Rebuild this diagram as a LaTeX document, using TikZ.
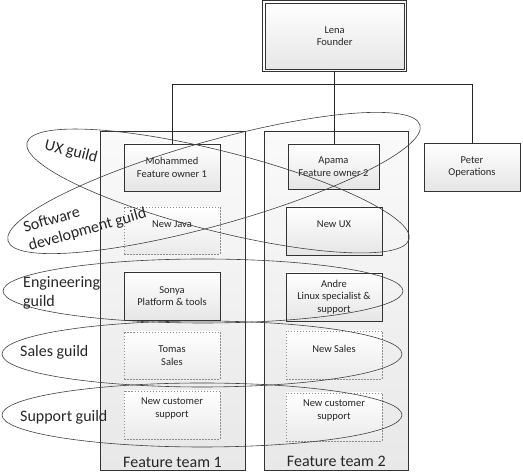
\documentclass[tikz,border=0pt]{standalone}
\usepackage{fontspec}
\setmainfont{Carlito}
\usetikzlibrary{positioning}
\usetikzlibrary{shadows}

\begin{document}
\begin{tikzpicture}[x=1pt, y=1pt,
	every node/.style={text=black!85},
	person/.style={draw=black!80, line width=0.7pt, top color=white, bottom color=black!10,
		minimum width=96pt, minimum height=47pt, align=center,
		font=\fontsize{10.5}{12.5}\selectfont,
		drop shadow={shadow xshift=1.2pt, shadow yshift=-1.2pt, opacity=0.25}},
	vacant/.style={draw=black!45, line width=0.6pt, dash pattern=on 1.5pt off 1.5pt,
		top color=white, bottom color=black!8,
		minimum width=96pt, minimum height=47pt, align=center,
		font=\fontsize{10.5}{12.5}\selectfont},
	boxtext/.style={font=\fontsize{10.5}{12.5}\selectfont, align=center, inner sep=0pt},
	team/.style={draw=black!80, line width=0.7pt, top color=black!2, bottom color=black!9,
		minimum width=145pt, minimum height=339pt},
	teamname/.style={font=\fontsize{16}{19}\selectfont, inner sep=0pt},
	guild/.style={draw=black!75, line width=0.6pt},
	guildname/.style={font=\fontsize{16}{19}\selectfont, inner sep=0pt, align=left},
	wire/.style={draw=black!85, line width=0.7pt}]

	\useasboundingbox (0,0) rectangle (523,473);

	\node[team] (team1) at (172.5,172.5) {};
	\node[team, minimum width=144.5pt] (team2) at (336.3,172.5) {};
	\node[teamname, above=3pt of team1.south] (team1lbl) {Feature team 1};
	\node[teamname, above=3.5pt of team2.south] (team2lbl) {Feature team 2};

	\node[person, line width=0.8pt, double, double distance=1.8pt, minimum width=141.6pt, minimum height=68.4pt] (lena) at (334.6,436.6) {Lena\\Founder};
	\node[person] (moh) at (172,305.5) {Mohammed\\Feature owner 1};
	\node[person, minimum width=91pt, minimum height=45pt] (apama) at (333.5,306.5) {Apama\\Feature owner 2};
	\node[person, minimum height=48pt] (peter) at (472,306) {Peter\\Operations};
	\node[vacant] (java) at (172,242.5) {};
	\node[person, minimum height=48pt] (newux) at (334,242) {};
	\node[person, minimum height=48pt] (sonya) at (172,177) {Sonya\\Platform \& tools};
	\node[person, minimum height=48pt] (andre) at (334,176) {Andre\\Linux specialist \&\\support};
	\node[vacant] (tomas) at (172,117.5) {Tomas\\Sales};
	\node[vacant, minimum height=48pt] (newsales) at (334,118) {};
	\node[vacant, minimum height=48pt] (support1) at (172,58) {};
	\node[vacant, minimum height=48pt] (support2) at (334,56) {};
	\foreach \n/\t in {java/New Java, newux/New UX, newsales/New Sales, support1/New customer\\support, support2/New customer\\support}
	{
		\node[boxtext] (\n-txt) at ([yshift=6.5pt]\n.center) {\t};
	}

	\draw[wire] (lena.south) -- ++(0,-13.5) -| (moh.north);
	\draw[wire] (lena.south) -- ++(0,-13.5) -| (peter.north);
	\draw[wire] (lena.south) -- (lena.south |- apama.north);

	\foreach \cx/\cy/\rx/\ry/\ang in {218/282/197/40/-14.2, 214/290/214/42/15.7, 203/182/200/32/0, 202/119/200/33/0, 202/58/200/32/0}
	{
		\draw[guild, rotate around={\ang:(\cx,\cy)}] (\cx,\cy) ellipse (\rx pt and \ry pt);
	}

	\node[guildname, rotate=-14] (uxlbl) at (71,321) {UX guild};
	\node[guildname, rotate=15.7] (swlbl) at (85,252) {Software\\development guild};
	\node[guildname, anchor=west] (englbl) at (23,180.5) {Engineering\\guild};
	\node[guildname, anchor=west] (saleslbl) at (20,121) {Sales guild};
	\node[guildname, anchor=west] (supportlbl) at (20,56) {Support guild};
\end{tikzpicture}
\end{document}
